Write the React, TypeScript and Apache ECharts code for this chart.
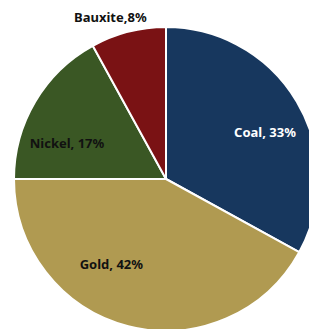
import React, { useEffect, useRef } from "react";
import * as echarts from "echarts";

const categories = ["Coal", "Gold", "Nickel", "Bauxite"];
const values = [33, 42, 17, 8];
const colors = ["#17375E", "#B09A51", "#3A5724", "#7A1214"];
const labelColors = ["#FFFFFF", "#111111", "#111111", "#111111"];
const labelOffsets: [number, number][] = [[31, -7], [-35, 8], [-31, 4], [-36, -85]];
const labelSeparators = [", ", ", ", ", ", ","];

export default function App() {
  const ref = useRef<HTMLDivElement>(null);
  useEffect(() => {
    document.body.style.margin = "0";
    const chart = echarts.init(ref.current!, null, { renderer: "svg" });
    chart.setOption({
      animation: false,
      backgroundColor: "#FFFFFF",
      series: [
        {
          type: "pie",
          center: [166, 179],
          radius: 152,
          startAngle: 90,
          clockwise: true,
          avoidLabelOverlap: false,
          itemStyle: { borderColor: "#FFFFFF", borderWidth: 2 },
          labelLine: { show: false },
          data: categories.map((c, i) => ({
            name: c,
            value: values[i],
            itemStyle: { color: colors[i] },
            label: {
              show: true,
              position: "inside",
              offset: labelOffsets[i],
              color: labelColors[i],
              fontFamily: "Noto Sans",
              fontWeight: "bold",
              fontSize: 13,
              formatter: () => `${c}${labelSeparators[i]}${values[i]}%`,
            },
          })),
        },
      ],
    });
    return () => chart.dispose();
  }, []);
  return <div ref={ref} style={{ width: 309, height: 329 }} />;
}
